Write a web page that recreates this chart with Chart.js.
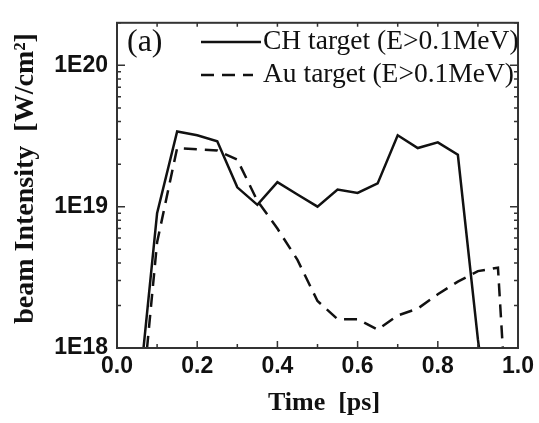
<!DOCTYPE html>
<html lang="en">
<head>
<meta charset="UTF-8">
<title>beam Intensity</title>
<style>
    body { margin: 0; background: #fff; }
    canvas { display: block; }
</style>
</head>
<body>
<canvas id="grafico" width="539" height="423"></canvas>
<script src="https://cdn.jsdelivr.net/npm/chart.js"></script>
<script>
    // tempo [ps]
    const tempo = [0.05, 0.10, 0.15, 0.20, 0.25, 0.30, 0.35, 0.40, 0.45, 0.50,
                   0.55, 0.60, 0.65, 0.70, 0.75, 0.80, 0.85, 0.90, 0.95, 1.00];
    // beam intensity [W/cm2]
    const intensidadeCH = [3.5e17, 9e18, 3.4e19, 3.2e19, 2.9e19, 1.37e19, 1.03e19, 1.49e19, 1.22e19, 1.0e19,
                           1.32e19, 1.25e19, 1.46e19, 3.2e19, 2.6e19, 2.85e19, 2.33e19, 1.15e18, 1e17, null];
    const intensidadeAu = [1.8e17, 5.6e18, 2.6e19, 2.55e19, 2.5e19, 2.15e19, 1.1e19, 7e18, 4.2e18, 2.15e18,
                           1.6e18, 1.6e18, 1.35e18, 1.7e18, 1.9e18, 2.4e18, 2.95e18, 3.5e18, 3.7e18, 1.6e16];
    const nomes = ['CH target (E>0.1MeV)', 'Au target (E>0.1MeV)'];
    const ticksX = [0, 0.1, 0.2, 0.3, 0.4, 0.5, 0.6, 0.7, 0.8, 0.9, 1.0];
    const decadasY = [18, 19, 20];

    const cor = '#111';

    function pontos(valores) {
        return tempo.map((t, i) => ({ x: t, y: valores[i] }));
    }

    // ticks para dentro, moldura, legenda e "(a)"
    const moldura = {
        id: 'moldura',
        afterDraw(chart) {
            const ctx = chart.ctx;
            const a = chart.chartArea;
            const x = chart.scales.x;
            const y = chart.scales.y;
            ctx.save();
            ctx.strokeStyle = '#333';
            ctx.lineWidth = 2;
            ctx.strokeRect(a.left, a.top, a.right - a.left, a.bottom - a.top);

            ctx.lineWidth = 1.5;
            ctx.beginPath();
            x.ticks.forEach(t => {
                const px = x.getPixelForValue(t.value);
                const len = Math.round(t.value * 10) % 2 === 0 ? 7 : 4;
                ctx.moveTo(px, a.bottom); ctx.lineTo(px, a.bottom - len);
                ctx.moveTo(px, a.top); ctx.lineTo(px, a.top + 4);
            });
            y.ticks.forEach(t => {
                const py = y.getPixelForValue(t.value);
                const e = Math.log10(t.value);
                const len = Math.abs(e - Math.round(e)) < 1e-6 ? 8 : 4;
                ctx.moveTo(a.left, py); ctx.lineTo(a.left + len, py);
                ctx.moveTo(a.right, py); ctx.lineTo(a.right - len, py);
            });
            ctx.stroke();

            // legenda
            ctx.fillStyle = cor;
            ctx.font = '27.5px "Liberation Serif"';
            ctx.textBaseline = 'middle';
            chart.data.datasets.forEach((ds, i) => {
                const ly = 42 + i * 33;
                ctx.strokeStyle = cor;
                ctx.lineWidth = ds.borderWidth;
                ctx.setLineDash(ds.borderDash || []);
                ctx.beginPath();
                ctx.moveTo(201, ly);
                ctx.lineTo(i === 0 ? 261 : 253, ly);
                ctx.stroke();
                ctx.fillText(ds.label, 263, ly);
            });
            ctx.setLineDash([]);
            ctx.font = '32px "Liberation Serif"';
            ctx.fillText('(a)', 127, 43);
            ctx.restore();
        }
    };

    new Chart(document.getElementById('grafico'), {
        type: 'line',
        data: {
            datasets: [{
                label: nomes[0],
                data: pontos(intensidadeCH),
                borderColor: cor,
                borderWidth: 2.5,
                pointRadius: 0,
                clip: 0
            }, {
                label: nomes[1],
                data: pontos(intensidadeAu),
                borderColor: cor,
                borderWidth: 2.5,
                borderDash: [13, 8],
                pointRadius: 0,
                clip: 0
            }]
        },
        options: {
            responsive: false,
            animation: false,
            layout: { padding: { top: 14, right: 20, left: 0, bottom: 0 } },
            plugins: {
                legend: { display: false },
                tooltip: { enabled: false }
            },
            scales: {
                x: {
                    type: 'linear',
                    min: 0,
                    max: 1,
                    afterBuildTicks: s => { s.ticks = ticksX.map(v => ({ value: v })); },
                    afterFit: s => { s.height = 75; },
                    grid: { display: false, drawTicks: false },
                    border: { display: false },
                    ticks: {
                        autoSkip: false,
                        maxRotation: 0,
                        padding: 5,
                        color: cor,
                        font: { family: '"Liberation Sans"', size: 23, weight: 'bold' },
                        callback: v => Math.round(v * 10) % 2 === 0 ? v.toFixed(1) : ''
                    },
                    title: {
                        display: true,
                        // espacos no inicio so para deslocar o titulo como no original
                        text: '  Time  [ps]',
                        color: cor,
                        padding: { top: 0, bottom: 4 },
                        font: { family: '"Liberation Serif"', size: 26, weight: 'bold' }
                    }
                },
                y: {
                    type: 'logarithmic',
                    min: 1e18,
                    max: 2e20,
                    afterBuildTicks: s => {
                        const lista = [];
                        decadasY.forEach(d => {
                            for (let m = 1; m <= 9; m++) {
                                const v = m * Math.pow(10, d);
                                if (v <= 2e20) lista.push({ value: v });
                            }
                        });
                        s.ticks = lista;
                    },
                    afterFit: s => { s.width = 117; },
                    grid: { display: false, drawTicks: false },
                    border: { display: false },
                    ticks: {
                        autoSkip: false,
                        padding: 9,
                        color: cor,
                        font: { family: '"Liberation Sans"', size: 23, weight: 'bold' },
                        callback: v => {
                            const e = Math.log10(v);
                            return Math.abs(e - Math.round(e)) < 1e-6 ? '1E' + Math.round(e) : '';
                        }
                    },
                    title: {
                        display: true,
                        text: '  beam Intensity  [W/cm²]',
                        color: cor,
                        padding: { top: 9, bottom: 0 },
                        font: { family: '"Liberation Serif"', size: 28, weight: 'bold' }
                    }
                }
            }
        },
        plugins: [moldura]
    });
</script>
</body>
</html>
